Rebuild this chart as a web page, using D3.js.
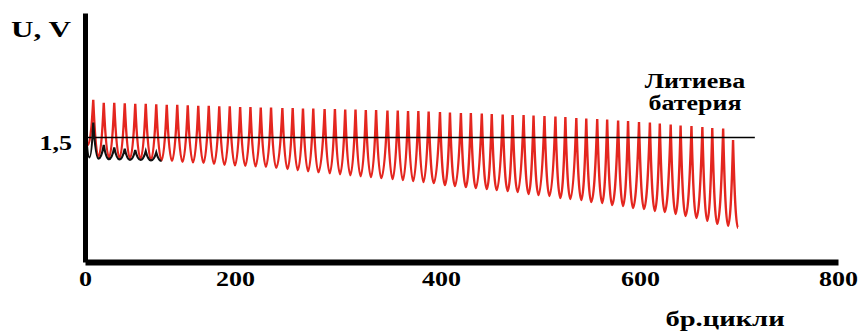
<!DOCTYPE html>
<html>
<head>
<meta charset="utf-8">
<script src="https://cdn.jsdelivr.net/npm/d3@7"></script>
<style>
  body { margin: 0; background: #fff; }
  text { font-family: "Liberation Serif", "Times New Roman", serif; font-weight: bold; fill: #000; }
</style>
</head>
<body>
<svg id="chart" width="861" height="333"></svg>
<script>
// axis ticks
const xTicks = [0, 200, 400, 600, 800];
const yTicks = [1.5];

// lithium battery: one spike per cycle block (peak, then the trough after it)
const peakCycle = [11, 25, 39, 53, 67, 81, 95, 109, 123, 137, 151, 165, 179, 193,
  205, 215, 225, 235, 246, 256, 266, 276, 287, 297, 307, 317, 327, 337, 348, 358,
  368, 378, 388, 399, 409, 420, 430, 441, 451, 462, 472, 483, 493, 504, 515, 525,
  536, 546, 557, 567, 578, 588, 599, 610, 620, 631, 641, 652, 663, 673, 684, 694];
const peakU = [1.651, 1.639, 1.639, 1.637, 1.635, 1.635, 1.633, 1.631, 1.631, 1.629,
  1.627, 1.627, 1.625, 1.625, 1.622, 1.622, 1.620, 1.620, 1.618, 1.618, 1.616, 1.616,
  1.614, 1.614, 1.612, 1.612, 1.610, 1.610, 1.608, 1.608, 1.606, 1.606, 1.604, 1.602,
  1.600, 1.598, 1.598, 1.596, 1.594, 1.592, 1.590, 1.590, 1.588, 1.586, 1.584, 1.582,
  1.578, 1.576, 1.574, 1.572, 1.568, 1.566, 1.562, 1.560, 1.556, 1.552, 1.548, 1.546,
  1.542, 1.538, 1.536, 1.490];
const troughCycle = [18, 32, 46, 60, 74, 88, 102, 116, 130, 144, 158, 172, 186, 200,
  210, 220, 230, 240, 251, 261, 271, 281, 292, 302, 312, 322, 332, 342, 353, 363,
  373, 383, 393, 404, 414, 425, 435, 446, 456, 467, 477, 488, 498, 509, 520, 530,
  541, 551, 562, 572, 583, 593, 604, 615, 625, 636, 646, 657, 668, 678, 689, 699];
const troughU = [1.422, 1.420, 1.418, 1.416, 1.414, 1.410, 1.408, 1.406, 1.402, 1.400,
  1.398, 1.394, 1.390, 1.388, 1.386, 1.384, 1.382, 1.378, 1.373, 1.369,
  1.365, 1.361, 1.357, 1.353, 1.349, 1.345, 1.341, 1.337, 1.333, 1.329,
  1.325, 1.321, 1.317, 1.309, 1.305, 1.301, 1.297, 1.293, 1.289, 1.285,
  1.281, 1.273, 1.269, 1.265, 1.257, 1.253, 1.249, 1.241, 1.237, 1.229,
  1.225, 1.217, 1.213, 1.205, 1.201, 1.193, 1.185, 1.177, 1.165, 1.153,
  1.145, 1.137];
const redStart = [4, 1.47];

// black curve in the first cycles
const blackCycle = [2, 6, 11, 18, 25, 32, 39, 46, 53, 60, 67, 74, 81, 88, 95, 102];
const blackU = [1.49, 1.42, 1.56, 1.415, 1.47, 1.413, 1.46, 1.412, 1.455, 1.41,
  1.45, 1.41, 1.445, 1.408, 1.44, 1.406];

// 1,5 V reference line
const refU = 1.5;
const refCycles = [0, 716];

const svg = d3.select("#chart");
const stretch = "scale(1.3,1)";

const x = d3.scaleLinear().domain(xTicks).range([85, 235, 441, 640, 838]);
const y = d3.scaleLinear().domain([1.0, 2.0]).range([262, 13]);

const redPts = [redStart];
peakCycle.forEach((c, i) => {
  redPts.push([c, peakU[i]]);
  redPts.push([troughCycle[i], troughU[i]]);
});
const blackPts = blackCycle.map((c, i) => [c, blackU[i]]);

// pulse curve: pointed at the tops, rounded in the troughs
function pulseCurve(context) {
  let x0, y0, n;
  return {
    lineStart() { n = 0; },
    lineEnd() {},
    areaStart() {}, areaEnd() {},
    point(x1, y1) {
      if (n++ === 0) { context.moveTo(x1, y1); }
      else {
        // control point sits at the trough level, half-way from the top
        const lowIsEnd = y1 > y0;
        const hx = lowIsEnd ? x0 : x1, lx = lowIsEnd ? x1 : x0;
        const cy = Math.max(y0, y1);
        context.quadraticCurveTo(hx + 0.45 * (lx - hx), cy, x1, y1);
      }
      x0 = x1; y0 = y1;
    }
  };
}

const line = d3.line()
  .x(d => x(d[0]))
  .y(d => y(d[1]))
  .curve(pulseCurve);

svg.append("path")
  .datum(redPts)
  .attr("fill", "none")
  .attr("stroke", "#e4261f")
  .attr("stroke-width", 2.4)
  .attr("d", line);

svg.append("line")
  .attr("x1", x(refCycles[0]))
  .attr("x2", x(refCycles[1]))
  .attr("y1", y(refU))
  .attr("y2", y(refU))
  .attr("stroke", "#000")
  .attr("stroke-width", 1.6);

svg.append("path")
  .datum(blackPts)
  .attr("fill", "none")
  .attr("stroke", "#111")
  .attr("stroke-width", 2.2)
  .attr("d", line);

// axes
const xAxis = svg.append("g")
  .attr("transform", "translate(0," + y(1.0) + ")")
  .call(d3.axisBottom(x).tickValues(xTicks).tickSize(0).tickSizeOuter(0).tickPadding(10)
    .tickFormat(d3.format("d")));
xAxis.select(".domain").attr("stroke", "#000").attr("stroke-width", 6);
xAxis.selectAll("text")
  .attr("font-size", 20)
  .attr("transform", stretch);

const yAxis = svg.append("g")
  .attr("transform", "translate(" + x(0) + ",0)")
  .call(d3.axisLeft(y).tickValues(yTicks).tickSize(0).tickSizeOuter(0).tickPadding(10)
    .tickFormat(d => d3.format(".1f")(d).replace(".", ",")));
yAxis.select(".domain").attr("stroke", "#000").attr("stroke-width", 5);
yAxis.selectAll("text")
  .attr("font-size", 20)
  .attr("dy", "0.62em")
  .attr("transform", stretch);
svg.selectAll(".domain").attr("fill", "none");

// labels
function label(txt, px, py, size) {
  svg.append("text")
    .attr("transform", "translate(" + px + "," + py + ") " + stretch)
    .attr("text-anchor", "middle")
    .attr("font-size", size)
    .text(txt);
}
label("U, V", 41, 37, 24);
label("Литиева", 695, 88, 20);
label("батерия", 695, 110, 20);
label("бр.цикли", 725, 326, 22);
</script>
</body>
</html>
